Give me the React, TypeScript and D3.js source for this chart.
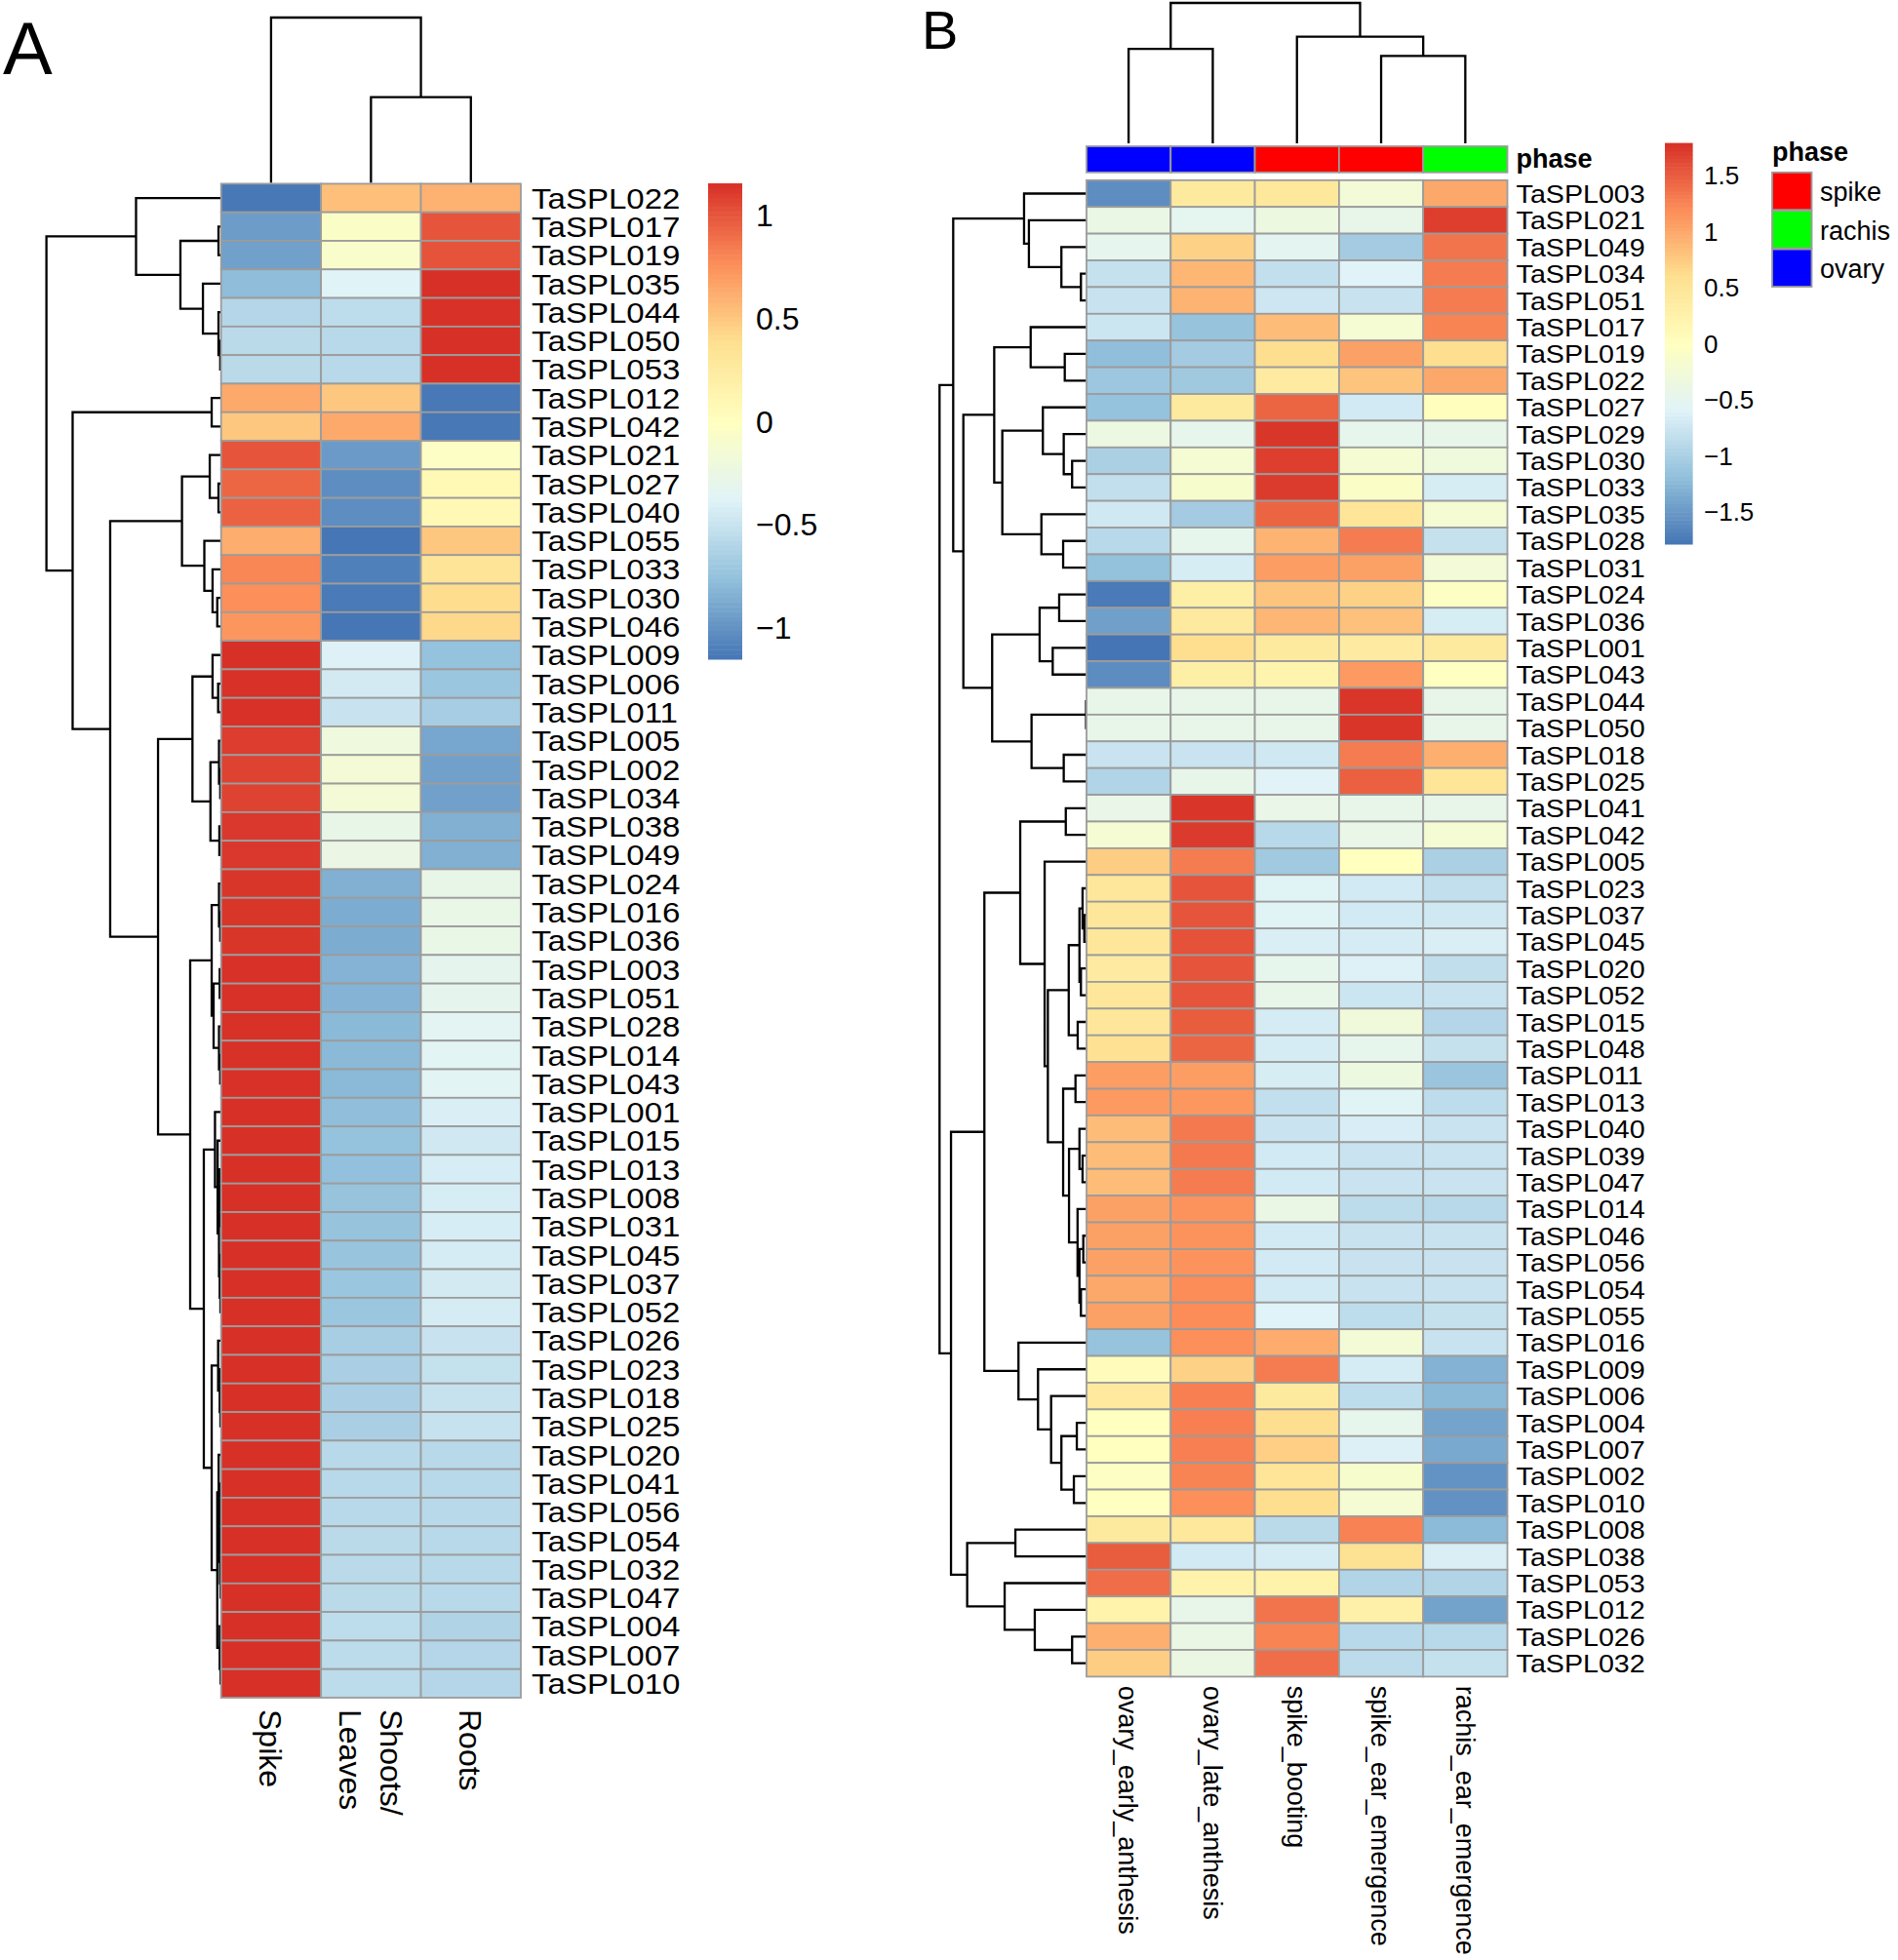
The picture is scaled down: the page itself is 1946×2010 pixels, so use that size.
import React from 'react';
import * as d3 from 'd3';

type TNode = string | [TNode, TNode, number];

// RdYlBu (reversed), the pheatmap default ramp
const palette = ['#4575B4', '#91BFDB', '#E0F3F8', '#FFFFBF', '#FEE090', '#FC8D59', '#D73027'];

// ---------- panel A : tissues ----------
const colsA = ['Spike', 'Shoots/\nLeaves', 'Roots'];
const rowsA = [
  'TaSPL022', 'TaSPL017', 'TaSPL019', 'TaSPL035', 'TaSPL044', 'TaSPL050', 'TaSPL053', 'TaSPL012', 'TaSPL042',
  'TaSPL021', 'TaSPL027', 'TaSPL040', 'TaSPL055', 'TaSPL033', 'TaSPL030', 'TaSPL046', 'TaSPL009', 'TaSPL006',
  'TaSPL011', 'TaSPL005', 'TaSPL002', 'TaSPL034', 'TaSPL038', 'TaSPL049', 'TaSPL024', 'TaSPL016', 'TaSPL036',
  'TaSPL003', 'TaSPL051', 'TaSPL028', 'TaSPL014', 'TaSPL043', 'TaSPL001', 'TaSPL015', 'TaSPL013', 'TaSPL008',
  'TaSPL031', 'TaSPL045', 'TaSPL037', 'TaSPL052', 'TaSPL026', 'TaSPL023', 'TaSPL018', 'TaSPL025', 'TaSPL020',
  'TaSPL041', 'TaSPL056', 'TaSPL054', 'TaSPL032', 'TaSPL047', 'TaSPL004', 'TaSPL007', 'TaSPL010',
];
const valuesA = [
  [-1.14, 0.54, 0.6], [-0.95, -0.05, 1.0], [-0.93, -0.08, 1.01], [-0.78, -0.38, 1.155], [-0.6, -0.55, 1.15],
  [-0.57, -0.58, 1.155], [-0.57, -0.58, 1.155], [0.64, 0.5, -1.14], [0.5, 0.64, -1.14],
  [1.0, -0.96, -0.04], [0.93, -1.03, 0.08], [0.95, -1.03, 0.08], [0.62, -1.15, 0.5], [0.8, -1.1, 0.33],
  [0.76, -1.13, 0.4], [0.73, -1.15, 0.42], [1.155, -0.4, -0.75], [1.15, -0.45, -0.72],
  [1.15, -0.5, -0.67], [1.1, -0.2, -0.9], [1.08, -0.15, -0.93], [1.08, -0.15, -0.93], [1.12, -0.28, -0.85],
  [1.12, -0.25, -0.85], [1.13, -0.85, -0.28], [1.13, -0.87, -0.27], [1.13, -0.87, -0.27],
  [1.15, -0.83, -0.32], [1.15, -0.83, -0.32], [1.15, -0.8, -0.35], [1.15, -0.8, -0.36], [1.15, -0.8, -0.36],
  [1.155, -0.77, -0.42], [1.155, -0.75, -0.47], [1.155, -0.76, -0.43], [1.155, -0.74, -0.43],
  [1.155, -0.74, -0.43], [1.155, -0.73, -0.44], [1.155, -0.72, -0.45], [1.155, -0.72, -0.44], [1.155, -0.66, -0.5],
  [1.155, -0.65, -0.52], [1.155, -0.65, -0.51], [1.155, -0.65, -0.51], [1.155, -0.58, -0.58],
  [1.155, -0.58, -0.58], [1.155, -0.58, -0.58], [1.155, -0.57, -0.58], [1.155, -0.57, -0.58], [1.155, -0.57, -0.58],
  [1.155, -0.55, -0.62], [1.155, -0.56, -0.6], [1.155, -0.56, -0.6],
];
// merge heights, root = 1
const rowTreeA: TNode = [
  ['022', [['017', '019', 0.015], ['035', ['044', ['050', '053', 0.005], 0.015], 0.104], 0.233], 0.487],
  [
    ['012', '042', 0.054],
    [
      [['021', ['027', '040', 0.015], 0.065], ['055', ['033', ['030', '046', 0.022], 0.049], 0.096], 0.224],
      [
        [['009', ['006', '011', 0.017], 0.049], [['005', ['002', '034', 0.005], 0.012], ['038', '049', 0.01], 0.061], 0.164],
        [
          [['024', ['016', '036', 0.005], 0.012], [['003', '051', 0.008], ['028', ['014', '043', 0.005], 0.012], 0.043], 0.054],
          [
            ['001', ['015', [['013', ['008', '031', 0.004], 0.008], ['045', ['037', '052', 0.004], 0.008], 0.012], 0.02], 0.035],
            [
              ['026', ['023', ['018', '025', 0.004], 0.008], 0.017],
              [['004', ['007', '010', 0.003], 0.008], ['020', [['041', '056', 0.003], ['054', ['032', '047', 0.003], 0.006], 0.01], 0.014], 0.022],
              0.054,
            ],
            0.099,
          ],
          0.177,
        ],
        0.361,
      ],
      0.635,
    ],
    0.85,
  ],
  1,
];
const colTreeA: TNode = ['Spike', ['Shoots/\nLeaves', 'Roots', 0.518], 1];
const ticksA = [-1, -0.5, 0, 0.5, 1];
const rangeA = [-1.155, 1.155];

// ---------- panel B : developmental phases ----------
const colsB = ['ovary_early_anthesis', 'ovary_late_anthesis', 'spike_booting', 'spike_ear_emergence', 'rachis_ear_emergence'];
const phaseB = ['ovary', 'ovary', 'spike', 'spike', 'rachis'];
const phaseLevels = ['spike', 'rachis', 'ovary'];
const phaseColors = ['#FF0000', '#00FF00', '#0000FF'];
const rowsB = [
  'TaSPL003', 'TaSPL021', 'TaSPL049', 'TaSPL034', 'TaSPL051', 'TaSPL017', 'TaSPL019', 'TaSPL022', 'TaSPL027',
  'TaSPL029', 'TaSPL030', 'TaSPL033', 'TaSPL035', 'TaSPL028', 'TaSPL031', 'TaSPL024', 'TaSPL036', 'TaSPL001',
  'TaSPL043', 'TaSPL044', 'TaSPL050', 'TaSPL018', 'TaSPL025', 'TaSPL041', 'TaSPL042', 'TaSPL005', 'TaSPL023',
  'TaSPL037', 'TaSPL045', 'TaSPL020', 'TaSPL052', 'TaSPL015', 'TaSPL048', 'TaSPL011', 'TaSPL013', 'TaSPL040',
  'TaSPL039', 'TaSPL047', 'TaSPL014', 'TaSPL046', 'TaSPL056', 'TaSPL054', 'TaSPL055', 'TaSPL016', 'TaSPL009',
  'TaSPL006', 'TaSPL004', 'TaSPL007', 'TaSPL002', 'TaSPL010', 'TaSPL008', 'TaSPL038', 'TaSPL053', 'TaSPL012',
  'TaSPL026', 'TaSPL032',
];
const valuesB = [
  [-1.59, 0.4, 0.45, -0.25, 1.0], [-0.4, -0.5, -0.35, -0.45, 1.7], [-0.48, 0.7, -0.52, -1.05, 1.35],
  [-0.8, 0.9, -0.82, -0.6, 1.3], [-0.78, 0.92, -0.74, -0.78, 1.3], [-0.75, -1.15, 0.85, -0.2, 1.25],
  [-1.2, -1.05, 0.6, 1.05, 0.6], [-1.1, -1.08, 0.38, 0.8, 1.0], [-1.16, 0.4, 1.45, -0.7, 0.02],
  [-0.37, -0.47, 1.75, -0.47, -0.44], [-1.0, -0.2, 1.7, -0.2, -0.3], [-0.82, -0.15, 1.72, -0.08, -0.67],
  [-0.72, -1.05, 1.45, 0.5, -0.2], [-0.9, -0.47, 0.92, 1.3, -0.8], [-1.17, -0.67, 1.08, 1.05, -0.25],
  [-1.75, 0.3, 0.8, 0.7, -0.05], [-1.45, 0.4, 0.9, 0.82, -0.67], [-1.79, 0.6, 0.4, 0.38, 0.41],
  [-1.6, 0.3, 0.22, 1.1, -0.02], [-0.44, -0.44, -0.44, 1.76, -0.44], [-0.44, -0.44, -0.44, 1.76, -0.44],
  [-0.77, -0.77, -0.72, 1.3, 0.95], [-0.95, -0.45, -0.58, 1.48, 0.5], [-0.43, 1.76, -0.43, -0.45, -0.45],
  [-0.2, 1.72, -0.9, -0.43, -0.2], [0.73, 1.3, -1.07, 0.0, -1.0], [0.47, 1.55, -0.57, -0.7, -0.82],
  [0.47, 1.55, -0.57, -0.7, -0.72], [0.47, 1.57, -0.65, -0.68, -0.65], [0.38, 1.55, -0.47, -0.62, -0.84],
  [0.47, 1.55, -0.45, -0.75, -0.78], [0.47, 1.5, -0.68, -0.28, -0.93], [0.57, 1.45, -0.68, -0.47, -0.8],
  [1.07, 1.07, -0.67, -0.35, -1.12], [1.1, 1.12, -0.82, -0.57, -0.85], [0.85, 1.32, -0.77, -0.66, -0.77],
  [0.85, 1.32, -0.7, -0.77, -0.77], [0.85, 1.3, -0.7, -0.77, -0.77], [1.05, 1.15, -0.4, -0.87, -0.9],
  [1.05, 1.15, -0.7, -0.78, -0.78], [1.05, 1.15, -0.7, -0.78, -0.78], [1.0, 1.2, -0.7, -0.78, -0.78],
  [1.05, 1.2, -0.6, -0.85, -0.8], [-1.15, 1.18, 0.97, -0.24, -0.78], [0.05, 0.7, 1.3, -0.68, -1.3],
  [0.42, 1.28, 0.4, -0.85, -1.25], [0.0, 1.28, 0.6, -0.47, -1.42], [0.0, 1.28, 0.72, -0.63, -1.37],
  [-0.05, 1.25, 0.5, -0.15, -1.55], [-0.02, 1.18, 0.6, -0.2, -1.56], [0.4, 0.45, -0.88, 1.26, -1.23],
  [1.5, -0.7, -0.68, 0.55, -0.65], [1.4, 0.25, 0.25, -0.95, -0.95], [0.25, -0.45, 1.35, 0.28, -1.43],
  [0.95, -0.4, 1.25, -0.9, -0.9], [0.73, -0.38, 1.4, -0.87, -0.8],
];
const rowTreeB: TNode = [
  [
    ['003', ['021', ['049', ['034', '051', 0.038], 0.171], 0.392], 0.425],
    [
      [['017', ['019', '022', 0.148], 0.38], [['027', ['029', ['030', '033', 0.098], 0.155], 0.297], ['035', ['028', '031', 0.159], 0.307], 0.573], 0.628],
      [[['024', '036', 0.186], ['001', '043', 0.23], 0.319], [['044', '050', 0.003], ['018', '025', 0.155], 0.374], 0.642],
      0.838,
    ],
    0.907,
  ],
  [
    [
      [
        ['041', '042', 0.141],
        ['005', [
          [[['023', ['037', '045', 0.015], 0.027], ['020', '052', 0.038], 0.048], ['015', '048', 0.06], 0.121],
          [['011', '013', 0.075], [['040', ['039', '047', 0.027], 0.048], ['014', [['046', '056', 0.022], ['054', '055', 0.038], 0.048], 0.061], 0.119], 0.159],
          0.263,
        ], 0.285],
        0.451,
      ],
      ['016', ['009', ['006', [['004', '007', 0.066], ['002', '010', 0.086], 0.171], 0.241], 0.33], 0.463],
      0.695,
    ],
    [['008', '038', 0.484], ['053', ['012', ['026', '032', 0.098], 0.352], 0.557], 0.812],
    0.922,
  ],
  1,
];
const colTreeB: TNode = [
  ['ovary_early_anthesis', 'ovary_late_anthesis', 0.673],
  ['spike_booting', ['spike_ear_emergence', 'rachis_ear_emergence', 0.622], 0.76],
  1,
];
const ticksB = [-1.5, -1, -0.5, 0, 0.5, 1, 1.5];
const rangeB = [-1.789, 1.789];

// ---------- helpers ----------
const FONT = "'Liberation Sans', Arial, Helvetica, sans-serif";
const GRID = '#9c9c9c';

type Merge = { a: number; ah: number; b: number; bh: number; h: number };
function walk(n: TNode, leafPos: (id: string) => number, out: Merge[]): { p: number; h: number } {
  if (typeof n === 'string') return { p: leafPos(n), h: 0 };
  const a = walk(n[0], leafPos, out);
  const b = walk(n[1], leafPos, out);
  out.push({ a: a.p, ah: a.h, b: b.p, bh: b.h, h: n[2] });
  return { p: (a.p + b.p) / 2, h: n[2] };
}
function leftTree(tree: TNode, leafPos: (id: string) => number, hx: d3.ScaleLinear<number, number>) {
  const out: Merge[] = [];
  walk(tree, leafPos, out);
  return out.map((m) => `M${hx(m.ah)},${m.a}H${hx(m.h)}V${m.b}H${hx(m.bh)}`).join('');
}
function topTree(tree: TNode, leafPos: (id: string) => number, hy: d3.ScaleLinear<number, number>) {
  const out: Merge[] = [];
  walk(tree, leafPos, out);
  return out.map((m) => `M${m.a},${hy(m.ah)}V${hy(m.h)}H${m.b}V${hy(m.bh)}`).join('');
}
function colorScale(range: number[]) {
  const [lo, hi] = range;
  return d3
    .scaleLinear<string>()
    .domain(palette.map((_, i) => lo + ((hi - lo) * i) / (palette.length - 1)))
    .range(palette)
    .interpolate(d3.interpolateRgb)
    .clamp(true);
}
const fmt = d3.format('~g');

function Legend({ x0, x1, y0, y1, range, ticks, tickX, fontSize }: any) {
  const color = colorScale(range);
  const ly = d3.scaleLinear().domain(range).range([y1, y0]);
  const steps = d3.range(100);
  const dv = (range[1] - range[0]) / 100;
  return (
    <g>
      {steps.map((i) => {
        const v0 = range[0] + i * dv;
        return (
          <rect key={i} x={x0} width={x1 - x0} y={ly(v0 + dv)} height={ly(v0) - ly(v0 + dv) + 0.5} fill={color(v0 + dv / 2)} />
        );
      })}
      {ticks.map((t: number) => (
        <text key={t} x={tickX} y={ly(t)} dy="0.36em" fontSize={fontSize} fontFamily={FONT}>
          {fmt(t)}
        </text>
      ))}
    </g>
  );
}

function Heatmap({ L, rows, cols, values, rowTree, colTree, range, ticks, rowFont, rowStretch, colFont, legendFont }: any) {
  const y = d3.scaleBand<string>().domain(rows).range([L.top, L.bottom]);
  const x = d3.scaleBand<string>().domain(cols).range([L.left, L.right]);
  const color = colorScale(range);
  const hx = d3.scaleLinear().domain([0, 1]).range([L.left, L.treeRoot]);
  const hy = d3.scaleLinear().domain([0, 1]).range([L.colTreeBottom, L.colTreeTop]);
  const rowPath = leftTree(rowTree, (id) => (y(`TaSPL${id}`) as number) + y.bandwidth() / 2, hx);
  const colPath = topTree(colTree, (id) => (x(id) as number) + x.bandwidth() / 2, hy);
  return (
    <g>
      <path d={rowPath} fill="none" stroke="#000" strokeWidth={2.3} />
      <path d={colPath} fill="none" stroke="#000" strokeWidth={2.3} />
      {rows.map((r: string, i: number) =>
        cols.map((c: string, j: number) => (
          <rect
            key={r + c}
            x={x(c)}
            y={y(r)}
            width={x.bandwidth()}
            height={y.bandwidth()}
            fill={color(values[i][j])}
            stroke={GRID}
            strokeWidth={1.8}
          />
        ))
      )}
      {rows.map((r: string) => (
        <text
          key={r}
          transform={`translate(${L.labelX},${(y(r) as number) + y.bandwidth() / 2}) scale(${rowStretch},1)`}
          dy="0.36em"
          fontSize={rowFont}
          fontFamily={FONT}
        >
          {r}
        </text>
      ))}
      {cols.map((c: string) => {
        const lines = c.split('\n');
        const cx = (x(c) as number) + x.bandwidth() / 2;
        const lh = colFont * 1.3;
        return (
          <text key={c} transform={`translate(${cx},${L.colLabelY}) rotate(90)`} fontSize={colFont} fontFamily={FONT}>
            {lines.map((ln, k) => (
              <tspan key={k} x={0} y={(k - (lines.length - 1) / 2) * lh} dy="0.36em">
                {ln}
              </tspan>
            ))}
          </text>
        );
      })}
      <Legend
        x0={L.legendX0}
        x1={L.legendX1}
        y0={L.legendY0}
        y1={L.legendY1}
        range={range}
        ticks={ticks}
        tickX={L.tickX}
        fontSize={legendFont}
      />
    </g>
  );
}

const layoutA = {
  left: 226.7, right: 534, top: 188.4, bottom: 1741, treeRoot: 47.6,
  colTreeBottom: 187.5, colTreeTop: 18, labelX: 545, colLabelY: 1753,
  legendX0: 726, legendX1: 761, legendY0: 188, legendY1: 676, tickX: 775,
};
const layoutB = {
  left: 1114, right: 1545.5, top: 184.8, bottom: 1719.4, treeRoot: 963.3,
  colTreeBottom: 147, colTreeTop: 3, labelX: 1554.6, colLabelY: 1728.7,
  legendX0: 1707, legendX1: 1735.6, legendY0: 146.6, legendY1: 558, tickX: 1747,
};

export default function App() {
  const xb = d3.scaleBand<string>().domain(colsB).range([layoutB.left, layoutB.right]);
  const annTop = 150;
  const annBottom = 176.8;
  const phaseColor = d3.scaleOrdinal<string, string>().domain(phaseLevels).range(phaseColors);
  const boxY = d3.scaleBand<string>().domain(phaseLevels).range([176.8, 295]);
  return (
    <svg
      width={1946}
      height={2010}
      viewBox="0 0 1946 2010"
      style={{ position: 'absolute', left: 0, top: 0, background: '#fff' }}
    >
      <rect x={0} y={0} width={1946} height={2010} fill="#fff" />
      <text x={3} y={76} fontSize={76} fontFamily={FONT}>A</text>
      <text x={945} y={50} fontSize={56} fontFamily={FONT}>B</text>

      <Heatmap
        L={layoutA}
        rows={rowsA}
        cols={colsA}
        values={valuesA}
        rowTree={rowTreeA}
        colTree={colTreeA}
        range={rangeA}
        ticks={ticksA}
        rowFont={29.5}
        rowStretch={1.12}
        colFont={32}
        legendFont={32}
      />

      <Heatmap
        L={layoutB}
        rows={rowsB}
        cols={colsB}
        values={valuesB}
        rowTree={rowTreeB}
        colTree={colTreeB}
        range={rangeB}
        ticks={ticksB}
        rowFont={26.5}
        rowStretch={1.08}
        colFont={27}
        legendFont={26}
      />

      {/* phase annotation bar */}
      {colsB.map((c, j) => (
        <rect
          key={c}
          x={xb(c)}
          y={annTop}
          width={xb.bandwidth()}
          height={annBottom - annTop}
          fill={phaseColor(phaseB[j])}
          stroke={GRID}
          strokeWidth={1.8}
        />
      ))}
      <text x={layoutB.labelX} y={172} fontSize={27} fontWeight="bold" fontFamily={FONT}>phase</text>

      {/* phase legend */}
      <text x={1817} y={164.6} fontSize={27} fontWeight="bold" fontFamily={FONT}>phase</text>
      {phaseLevels.map((p) => (
        <g key={p}>
          <rect
            x={1817}
            y={boxY(p)}
            width={40.5}
            height={boxY.bandwidth() - 1}
            fill={phaseColor(p)}
            stroke={GRID}
            strokeWidth={1.8}
          />
          <text x={1866} y={(boxY(p) as number) + boxY.bandwidth() / 2} dy="0.36em" fontSize={27} fontFamily={FONT}>
            {p}
          </text>
        </g>
      ))}
    </svg>
  );
}
